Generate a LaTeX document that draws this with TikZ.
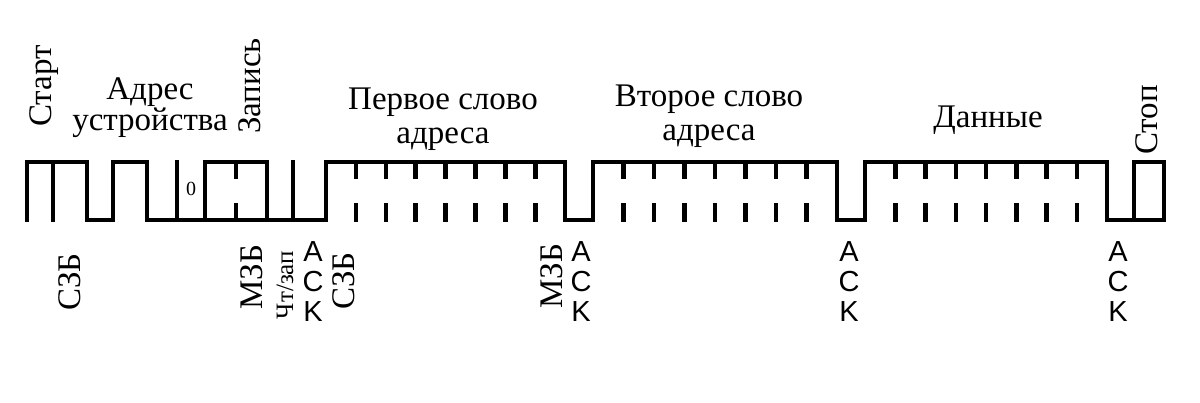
\documentclass[tikz,border=0pt]{standalone}
\usepackage{fontspec}
\setmainfont{Liberation Serif}
\newfontfamily\ackfont{Liberation Sans}
\begin{document}
\begin{tikzpicture}[x=1pt,y=-1pt,
  wave/.style={line width=4.5pt,line join=miter,line cap=rect},
  lbl/.style={font=\fontsize{33}{34}\selectfont,align=center,inner sep=0},
  rlbl/.style={lbl,rotate=90},
  ack/.style={font=\ackfont\fontsize{29}{30}\selectfont,align=center,inner sep=0}]
\useasboundingbox (0,0) rectangle (1200,403);
% main waveform
\draw[wave] (27,220) -- (27,162) -- (87,162) -- (87,220) -- (113,220) -- (113,162) -- (147,162) -- (147,220)
  -- (326,220) -- (326,162) -- (565,162) -- (565,220) -- (593,220) -- (593,162) -- (837,162) -- (837,220)
  -- (865,220) -- (865,162) -- (1107,162) -- (1107,220) -- (1134,220) -- (1134,162) -- (1164,162) -- (1164,220) -- (1107,220);
\draw[wave] (53,162) -- (53,220);
\draw[wave] (177,162) -- (177,220);
\draw[wave] (205,220) -- (205,162) -- (267,162) -- (267,220);
\draw[wave] (236,162) -- (236,177) (236,205) -- (236,220);
\draw[wave] (293,162) -- (293,220);
\node[font=\fontsize{20}{20}\selectfont,inner sep=0] (zero) at (191,189) {0};
\foreach \a/\s in {326/29.9,593/30.5,865/30.25}{
  \foreach \k in {1,...,7}{
    \draw[wave] (\a+\k*\s,162) -- (\a+\k*\s,177) (\a+\k*\s,205) -- (\a+\k*\s,220);
  }
}
% top labels
\node[rlbl] (start) at (44,86) {Старт};
\node[lbl] (addr) at (150,108) {Адрес\\[-3pt]устройства};
\node[rlbl] (zap) at (250,86) {Запись};
\node[lbl] (w1) at (443,119) {Первое слово\\[0pt]адреса};
\node[lbl] (w2) at (709,116) {Второе слово\\[0pt]адреса};
\node[lbl] (data) at (988,120) {Данные};
\node[rlbl] (stop) at (1147,120) {Стоп};
% bottom labels
\node[rlbl] (s1) at (70,282) {СЗБ};
\node[rlbl] (m1) at (252,277) {МЗБ};
\node[rlbl,font=\fontsize{25}{25}\selectfont] (rw) at (285,285) {Чт/зап};
\node[ack] (a1) at (313,282) {A\\C\\K};
\node[rlbl] (s2) at (344,281) {СЗБ};
\node[rlbl] (m2) at (552,276) {МЗБ};
\node[ack] (a2) at (581,282) {A\\C\\K};
\node[ack] (a3) at (849,282) {A\\C\\K};
\node[ack] (a4) at (1118,282) {A\\C\\K};
\end{tikzpicture}
\end{document}
